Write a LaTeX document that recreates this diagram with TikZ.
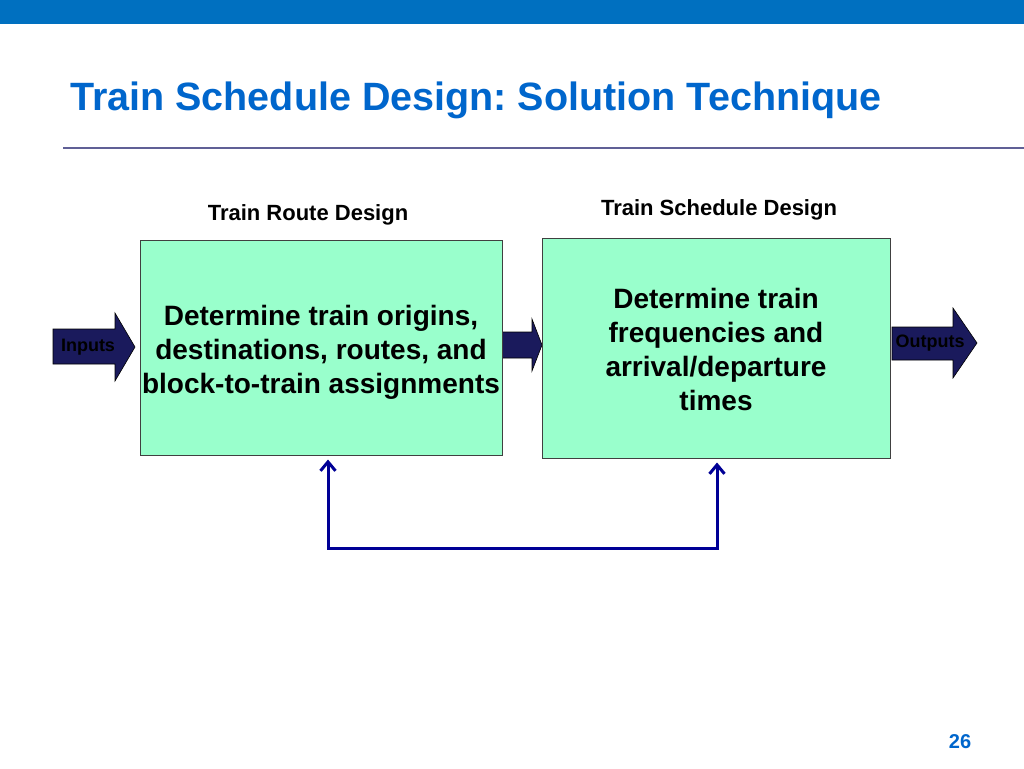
\documentclass[tikz,border=0pt]{standalone}
\usepackage{fontspec}
\setmainfont{Liberation Sans}
\frenchspacing
\definecolor{tsblue}{RGB}{0,112,192}
\definecolor{tstitle}{RGB}{0,102,204}
\definecolor{tsrule}{RGB}{96,96,150}
\definecolor{tsmint}{RGB}{153,255,204}
\definecolor{tsnavy}{RGB}{26,26,92}
\definecolor{tsloop}{RGB}{0,0,150}
\usetikzlibrary{arrows.meta,positioning}

\begin{document}
\begin{tikzpicture}[x=1pt,y=-1pt,
  stage/.style={draw=black!75,fill=tsmint,line width=1pt,inner sep=0pt},
  stagetext/.style={inner sep=0pt,align=center,font=\fontsize{28}{34}\selectfont\bfseries},
  stagelabel/.style={font=\fontsize{22}{26}\selectfont\bfseries,inner sep=0pt},
  blockarrow/.style={fill=tsnavy,draw=black,line width=0.6pt},
  arrowlabel/.style={font=\fontsize{18}{20}\selectfont\bfseries,inner sep=0pt},
  feedback/.style={draw=tsloop,line width=3pt,
    {Straight Barb[length=9pt,width=15pt]}-{Straight Barb[length=9pt,width=15pt]},
    shorten <=4pt,shorten >=4pt}]
  \fill[white] (0,0) rectangle (1024,768);
  \useasboundingbox (0,0) rectangle (1024,768);
  \fill[tsblue] (0,0) rectangle (1024,24);
  \node[anchor=base west,text=tstitle,inner sep=0pt,font=\fontsize{39.5}{48}\selectfont\bfseries]
    (title) at (70,110) {Train Schedule Design: Solution Technique};
  \draw[tsrule,line width=2pt] (63,148) -- (1024,148);

  % block arrows go under the boxes
  \filldraw[blockarrow] (53,329) -- (115,329) -- (115,313) -- (135,347) -- (115,381) -- (115,364) -- (53,364) -- cycle;
  \filldraw[blockarrow] (495,332) -- (532,332) -- (532,319) -- (542,345) -- (532,371) -- (532,358) -- (495,358) -- cycle;
  \filldraw[blockarrow] (892,327) -- (953,327) -- (953,308) -- (977,343) -- (953,378) -- (953,360) -- (892,360) -- cycle;
  \node[arrowlabel] (inputs) at (88,347) {Inputs};
  \node[arrowlabel] (outputs) at (930,343) {Outputs};

  \node[stage,minimum width=362pt,minimum height=215pt] (route) at (321,347.5) {};
  \node[stagetext] (routetext) at ([yshift=-5pt]route.center)
    {Determine train origins,\\destinations, routes, and\\block-to-train assignments};
  \node[stage,minimum width=348pt,minimum height=220pt] (schedule) at (716,348) {};
  \node[stagetext] (schedtext) at ([yshift=-1pt]schedule.center)
    {Determine train\\frequencies and\\arrival/departure\\times};
  \node[stagelabel] (routelbl) at (308,215) {Train Route Design};
  \node[stagelabel] (schedlbl) at (719,210) {Train Schedule Design};

  \coordinate (loopL) at (328,548);
  \coordinate (loopR) at (717,548);
  \draw[feedback] (route.south -| loopL) -- (loopL) -- (loopR) -- (schedule.south -| loopR);

  \node[text=tstitle,inner sep=0pt,font=\fontsize{20}{24}\selectfont\bfseries] (pagenum) at (960,742) {26};
\end{tikzpicture}
\end{document}
